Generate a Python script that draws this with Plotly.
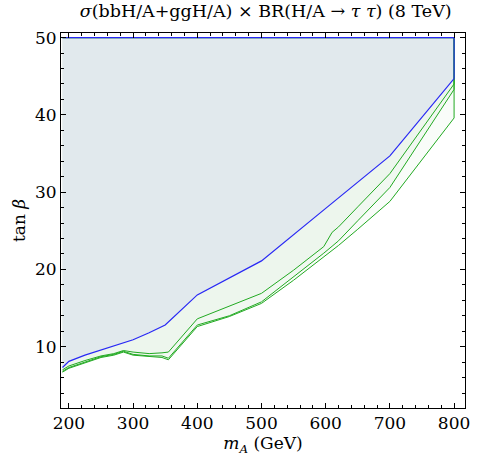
import plotly.graph_objects as go

# ---- data ----
TOP = 50.0

mass_obs = [190, 200, 225, 250, 275, 300, 325, 350, 400, 450, 500, 600, 700, 800]
tanb_obs = [7.3, 8.1, 8.9, 9.6, 10.2, 10.9, 11.8, 12.8, 16.7, 18.9, 21.1, 27.9, 34.7, 44.7]

mass_exp = [190, 200, 225, 250, 270, 285, 300, 325, 345, 355, 400, 450, 500, 550, 597, 610, 620, 650, 700, 800]
tanb_exp1 = [7.0, 7.5, 8.2, 8.8, 9.1, 9.5, 9.3, 9.1, 9.2, 9.3, 13.6, 15.2, 16.9, 19.9, 22.95, 24.8, 25.5, 28.1, 32.4, 44.0]
tanb_exp2 = [6.8, 7.3, 8.0, 8.7, 9.0, 9.4, 9.0, 8.8, 8.8, 8.5, 12.8, 14.0, 15.8, 19.0, 22.1, 23.0, 23.7, 26.3, 30.6, 43.3]
tanb_exp3 = [6.7, 7.2, 7.9, 8.6, 8.9, 9.3, 8.9, 8.7, 8.6, 8.3, 12.6, 13.9, 15.6, 18.6, 21.6, 22.5, 23.1, 25.2, 28.8, 39.6]

x_ticks = [200, 300, 400, 500, 600, 700, 800]
y_ticks = [10, 20, 30, 40, 50]

GREEN = "rgb(34,170,34)"
BLUE = "rgb(40,40,245)"
FONT = "DejaVu Serif"


def region(xs, ys):
    # closed outline: curve, then up the last mass to TOP, back along TOP
    return list(xs) + [xs[-1], xs[0]], list(ys) + [TOP, TOP]


fig = go.Figure()

# fills (lowest first, each painted over by the next)
fills = [
    (tanb_exp3, mass_exp, "rgb(249,252,249)"),
    (tanb_exp2, mass_exp, "rgb(241,248,241)"),
    (tanb_exp1, mass_exp, "rgb(237,246,237)"),
    (tanb_obs, mass_obs, "rgb(225,233,237)"),
]
for ys, xs, col in fills:
    px, py = region(xs, ys)
    fig.add_trace(go.Scatter(x=px, y=py, mode="none", fill="toself",
                             fillcolor=col, hoverinfo="skip", showlegend=False))

# green outlines
for ys in (tanb_exp3, tanb_exp2, tanb_exp1):
    px, py = region(mass_exp, ys)
    fig.add_trace(go.Scatter(x=px, y=py, mode="lines",
                             line=dict(color=GREEN, width=1),
                             hoverinfo="skip", showlegend=False))

# blue outline
px, py = region(mass_obs, tanb_obs)
fig.add_trace(go.Scatter(x=px, y=py, mode="lines",
                         line=dict(color=BLUE, width=1.2),
                         hoverinfo="skip", showlegend=False))

axis_common = dict(
    showline=True, linecolor="black", linewidth=1, mirror="ticks",
    ticks="inside", ticklen=5, tickcolor="black", tickwidth=1,
    showgrid=False, zeroline=False,
    tickfont=dict(family=FONT, size=17, color="black"),
)

fig.update_xaxes(range=[187.7, 817], tickvals=x_ticks,
                 minor=dict(ticks="inside", dtick=20, tick0=200, ticklen=3,
                            tickcolor="black", showgrid=False),
                 title=dict(text="<i>m<sub>A</sub></i> (GeV)", standoff=0,
                            font=dict(family=FONT, size=17, color="black")),
                 **axis_common)
fig.update_yaxes(range=[2.06, 50.6], tickvals=y_ticks,
                 minor=dict(ticks="inside", dtick=2, tick0=0, ticklen=3,
                            tickcolor="black", showgrid=False),
                 title=dict(text="tan <i>β</i>", standoff=5,
                            font=dict(family=FONT, size=17, color="black")),
                 **axis_common)

fig.update_layout(
    width=477, height=459,
    margin=dict(l=61, r=7, t=33, b=51),
    paper_bgcolor="white", plot_bgcolor="white",
    title=dict(text="<i>σ</i>(bbH/A+ggH/A) × BR(H/A → <i>τ</i> <i>τ</i>) (8 TeV)",
               x=0.557, xanchor="center", y=0.99, yanchor="top",
               font=dict(family=FONT, size=17.5, color="black")),
    showlegend=False,
)

fig.write_html("out.html")
